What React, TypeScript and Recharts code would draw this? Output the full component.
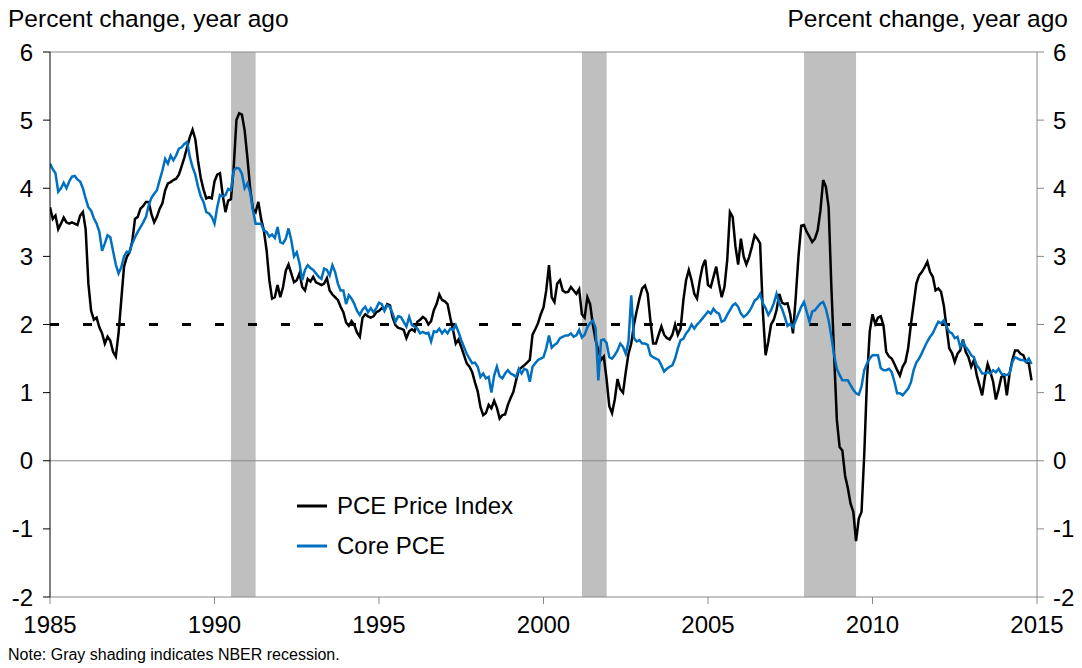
import React from 'react';
import { ComposedChart, Line, XAxis, YAxis, ReferenceArea, ReferenceLine } from 'recharts';

// Monthly series, first value = January 1985
const START_YEAR = 1985;

const PCE: number[] = [
  3.72, 3.55, 3.6, 3.4, 3.48, 3.57, 3.5, 3.48, 3.5, 3.48, 3.46, 3.6,
  3.65, 3.4, 2.6, 2.2, 2.07, 2.1, 1.96, 1.87, 1.72, 1.82, 1.76, 1.6,
  1.53, 1.87, 2.36, 2.85, 2.99, 3.06, 3.22, 3.55, 3.58, 3.7, 3.74, 3.8,
  3.8, 3.62, 3.5, 3.58, 3.7, 3.78, 3.97, 4.07, 4.09, 4.12, 4.14, 4.2,
  4.32, 4.45, 4.6, 4.75, 4.86, 4.72, 4.4, 4.15, 3.98, 3.85, 3.87, 3.85,
  4.1, 4.2, 4.22, 3.9, 3.65, 3.82, 3.84, 4.3, 5.0, 5.1, 5.08, 4.85,
  4.45, 4.0, 3.7, 3.65, 3.8, 3.55, 3.38, 3.09, 2.65, 2.38, 2.4, 2.58,
  2.4, 2.55, 2.79, 2.88, 2.75, 2.62, 2.65, 2.75, 2.55, 2.5, 2.67, 2.63,
  2.7, 2.62, 2.6, 2.58, 2.6, 2.68, 2.5, 2.44, 2.4, 2.36, 2.26, 2.18,
  2.03, 1.98, 2.05, 1.99, 1.88, 1.82, 2.1, 2.15, 2.12, 2.1, 2.12, 2.18,
  2.2, 2.24, 2.22, 2.3, 2.28, 2.1, 1.99, 1.95, 1.94, 1.92, 1.8, 1.9,
  1.93, 1.9, 2.04, 2.07, 2.11, 2.08, 2.0, 2.05, 2.21, 2.3, 2.44, 2.36,
  2.34, 2.3, 2.1, 1.92, 1.72, 1.78, 1.67, 1.55, 1.43, 1.38, 1.3, 1.15,
  1.02, 0.79, 0.67, 0.7, 0.82, 0.77, 0.88, 0.78, 0.62, 0.67, 0.68, 0.82,
  0.92, 1.01, 1.18, 1.33, 1.37, 1.4, 1.44, 1.48, 1.85, 1.93, 2.02, 2.15,
  2.25, 2.5, 2.87, 2.4, 2.33, 2.6, 2.65, 2.5, 2.47, 2.48, 2.55, 2.5,
  2.45, 2.52, 2.15, 2.1, 2.4, 2.3, 2.0, 1.77, 1.62, 1.48, 1.53, 1.2,
  0.8, 0.7, 0.9, 1.2, 1.05, 1.0, 1.3, 1.57, 1.72, 2.0, 2.2, 2.38,
  2.53, 2.57, 2.45, 2.05, 1.72, 1.72, 1.85, 1.97, 1.85, 1.8, 1.78, 1.85,
  2.0, 1.85, 1.94, 2.35, 2.65, 2.8, 2.65, 2.45, 2.38, 2.65, 2.85, 2.95,
  2.58, 2.55, 2.7, 2.85, 2.6, 2.4, 2.55, 2.94, 3.65, 3.58, 3.15, 2.88,
  3.26, 3.0, 2.88, 2.99, 3.14, 3.31, 3.26, 3.19, 2.2, 1.55, 1.75, 2.0,
  2.07, 2.21, 2.45, 2.32, 2.3, 2.31, 2.15, 1.87, 2.4, 3.0, 3.45, 3.46,
  3.36, 3.29, 3.21, 3.26, 3.38, 3.67, 4.12, 4.02, 3.72, 2.55, 1.55, 0.6,
  0.2, 0.15, -0.22, -0.4, -0.63, -0.75, -1.18, -0.85, -0.75, 0.1, 1.2, 1.9,
  2.15, 2.01, 2.1, 2.12, 1.99, 1.6, 1.53, 1.5, 1.42, 1.33, 1.25, 1.38,
  1.45, 1.65, 2.0, 2.3, 2.6, 2.72, 2.77, 2.84, 2.92, 2.77, 2.7, 2.5,
  2.53, 2.48, 2.28, 1.96, 1.65, 1.58, 1.45, 1.57, 1.62, 1.78, 1.6, 1.52,
  1.38, 1.48, 1.26, 1.11, 0.96, 1.23, 1.42, 1.3, 1.16, 0.9, 1.05, 1.23,
  1.26, 0.96, 1.28, 1.48, 1.62, 1.62, 1.57, 1.55, 1.45, 1.43, 1.18,
];

const CORE: number[] = [
  4.36, 4.28, 4.22, 3.95, 4.0, 4.08, 4.0, 4.1, 4.17, 4.18, 4.13, 4.1,
  4.0, 3.85, 3.72, 3.67, 3.56, 3.48, 3.36, 3.08, 3.19, 3.31, 3.28, 3.08,
  2.88, 2.75, 2.84, 3.0, 3.07, 3.06, 3.19, 3.28, 3.36, 3.43, 3.5, 3.58,
  3.75, 3.86, 3.92, 3.97, 4.12, 4.26, 4.43, 4.36, 4.48, 4.41, 4.48, 4.58,
  4.6, 4.65, 4.68, 4.46, 4.31, 4.2, 4.02, 3.88, 3.8, 3.65, 3.63, 3.58,
  3.48, 3.72, 3.9, 3.88, 3.9, 3.99, 3.97, 4.26, 4.3, 4.29, 4.21, 4.0,
  4.07, 3.94, 3.68, 3.48, 3.48, 3.48, 3.38, 3.36, 3.29, 3.32, 3.27, 3.43,
  3.21, 3.19, 3.26, 3.41, 3.24, 3.0, 3.06, 2.9, 2.65, 2.8, 2.87, 2.83,
  2.8, 2.75, 2.7, 2.67, 2.82, 2.8, 2.72, 2.87, 2.77, 2.6, 2.5, 2.5,
  2.3, 2.43, 2.38, 2.3, 2.2, 2.14, 2.22, 2.26, 2.18, 2.24, 2.18, 2.24,
  2.32, 2.3, 2.2, 2.28, 2.26, 2.16, 2.04, 2.12, 2.11, 2.04, 1.97, 2.11,
  1.99, 1.97, 1.94, 1.87, 1.89, 1.87, 1.88, 1.75, 1.9, 1.89, 1.94, 1.87,
  1.92, 1.87, 1.94, 1.92, 1.99, 1.89, 1.77, 1.67, 1.57, 1.5, 1.43, 1.44,
  1.38, 1.23, 1.28, 1.21, 1.23, 1.0, 1.25, 1.38, 1.24, 1.21, 1.28, 1.33,
  1.28, 1.26, 1.23, 1.35, 1.28, 1.35, 1.33, 1.16, 1.38, 1.43, 1.48, 1.5,
  1.52, 1.65, 1.84, 1.66, 1.7, 1.73, 1.8, 1.82, 1.84, 1.84, 1.87, 1.82,
  1.84, 1.92, 1.81, 1.85, 1.96, 2.02, 2.06, 1.95, 1.18, 1.77, 1.78, 1.73,
  1.52, 1.5, 1.55, 1.62, 1.72, 1.67, 1.57, 1.75, 2.43, 1.8, 1.75, 1.77,
  1.72, 1.72, 1.7, 1.55, 1.52, 1.5, 1.48, 1.4, 1.31, 1.35, 1.38, 1.4,
  1.5, 1.65, 1.77, 1.79, 1.87, 1.92, 2.0, 1.94, 2.0, 2.04, 2.09, 2.14,
  2.19, 2.16, 2.23, 2.18, 2.16, 2.04, 2.06, 2.14, 2.21, 2.28, 2.31, 2.26,
  2.16, 2.11, 2.14, 2.19, 2.26, 2.35, 2.38, 2.45, 2.31, 2.24, 2.14, 2.21,
  2.31, 2.45, 2.31, 2.23, 2.11, 1.98, 2.01, 1.96, 2.06, 2.16, 2.26, 2.33,
  2.19, 2.04, 2.19, 2.21, 2.26, 2.31, 2.33, 2.23, 2.06, 1.82, 1.55, 1.35,
  1.26, 1.18, 1.18, 1.18, 1.11, 1.04, 0.99, 0.97, 1.09, 1.33, 1.43, 1.5,
  1.55, 1.55, 1.55, 1.36, 1.33, 1.33, 1.35, 1.3, 1.16, 0.99, 0.99, 0.96,
  1.01, 1.06, 1.15, 1.33, 1.44, 1.5, 1.58, 1.67, 1.75, 1.82, 1.87, 1.96,
  2.04, 2.02, 2.06, 1.97, 1.89, 1.87, 1.8, 1.82, 1.67, 1.75, 1.67, 1.62,
  1.55, 1.52, 1.4, 1.35, 1.28, 1.28, 1.3, 1.28, 1.33, 1.3, 1.35, 1.28,
  1.26, 1.26, 1.28, 1.45, 1.52, 1.5, 1.48, 1.48, 1.45, 1.5, 1.42,
];

const X_TICKS = [1985, 1990, 1995, 2000, 2005, 2010, 2015];
const Y_TICKS = [-2, -1, 0, 1, 2, 3, 4, 5, 6];
const RECESSIONS: [number, number][] = [
  [1990.5, 1991.25],
  [2001.17, 2001.92],
  [2007.92, 2009.5],
];
const TARGET = 2;
const SERIES_NAMES = { pce: 'PCE Price Index', core: 'Core PCE' };
const AXIS_TITLE = 'Percent change, year ago';
const NOTE = 'Note: Gray shading indicates NBER recession.';

const data = PCE.map((v, i) => ({ t: START_YEAR + i / 12, pce: v, core: CORE[i] }));

const FONT = '"Liberation Sans", Arial, sans-serif';
const BLACK = '#000000';
const BLUE = '#0070C0';
const GRAY = '#898989';

const LEGEND_ITEMS = [
  { name: SERIES_NAMES.pce, color: BLACK },
  { name: SERIES_NAMES.core, color: BLUE },
];

export default function App() {
  return (
    <div style={{ position: 'absolute', left: 0, top: 0, width: 1082, height: 668, background: '#fff', fontFamily: FONT, color: '#000' }}>
      <ComposedChart
        width={1082}
        height={668}
        data={data}
        margin={{ top: 52, right: 0, bottom: 41, left: 0 }}
      >
        <XAxis
          dataKey="t"
          type="number"
          domain={[1985, 2015]}
          ticks={X_TICKS}
          allowDataOverflow
          height={30}
          tickSize={7}
          tickMargin={12}
          stroke={GRAY}
          tick={{ fill: '#000', fontSize: 24, fontFamily: FONT }}
          tickLine={{ stroke: GRAY }}
        />
        <YAxis
          yAxisId="left"
          domain={[-2, 6]}
          ticks={Y_TICKS}
          width={50}
          tickSize={7}
          tickMargin={10}
          stroke="#000"
          tick={{ fill: '#000', fontSize: 24, fontFamily: FONT }}
          tickLine={{ stroke: '#000' }}
          allowDataOverflow
        />
        <YAxis
          yAxisId="right"
          orientation="right"
          domain={[-2, 6]}
          ticks={Y_TICKS}
          width={45}
          tickSize={7}
          tickMargin={9}
          stroke={GRAY}
          tick={{ fill: '#000', fontSize: 24, fontFamily: FONT, textAnchor: 'start' }}
          tickLine={{ stroke: GRAY }}
          allowDataOverflow
        />
        {RECESSIONS.map(([a, b], i) => (
          <ReferenceArea key={i} yAxisId="left" x1={a} x2={b} y1={-2} y2={6} fill="#BFBFBF" fillOpacity={1} stroke="none" />
        ))}
        <ReferenceLine yAxisId="left" y={6} stroke={GRAY} strokeWidth={1} />
        <ReferenceLine yAxisId="left" y={0} stroke={GRAY} strokeWidth={1} />
        <ReferenceLine yAxisId="left" y={TARGET} stroke="#000" strokeWidth={3} strokeDasharray="9 24" />
        <Line
          yAxisId="left"
          type="linear"
          dataKey="pce"
          name={SERIES_NAMES.pce}
          stroke={BLACK}
          strokeWidth={2.5}
          dot={false}
          isAnimationActive={false}
        />
        <Line
          yAxisId="left"
          type="linear"
          dataKey="core"
          name={SERIES_NAMES.core}
          stroke={BLUE}
          strokeWidth={2.5}
          dot={false}
          isAnimationActive={false}
        />
      </ComposedChart>
      <div style={{ position: 'absolute', left: 8, top: 7, fontSize: 24.5, lineHeight: '24px', whiteSpace: 'nowrap' }}>{AXIS_TITLE}</div>
      <div style={{ position: 'absolute', right: 14, top: 7, fontSize: 24.5, lineHeight: '24px', whiteSpace: 'nowrap' }}>{AXIS_TITLE}</div>
      <div style={{ position: 'absolute', left: 8, top: 647, fontSize: 16, lineHeight: '16px', whiteSpace: 'nowrap' }}>{NOTE}</div>
      <div style={{ position: 'absolute', left: 297, top: 486, fontSize: 24 }}>
        {LEGEND_ITEMS.map((it, i) => (
          <div key={i} style={{ display: 'flex', alignItems: 'center', height: 40 }}>
            <svg width={40} height={10} style={{ display: 'block' }}>
              <line x1={0} y1={5} x2={30} y2={5} stroke={it.color} strokeWidth={3} />
            </svg>
            <span style={{ lineHeight: '24px', whiteSpace: 'nowrap' }}>{it.name}</span>
          </div>
        ))}
      </div>
    </div>
  );
}
